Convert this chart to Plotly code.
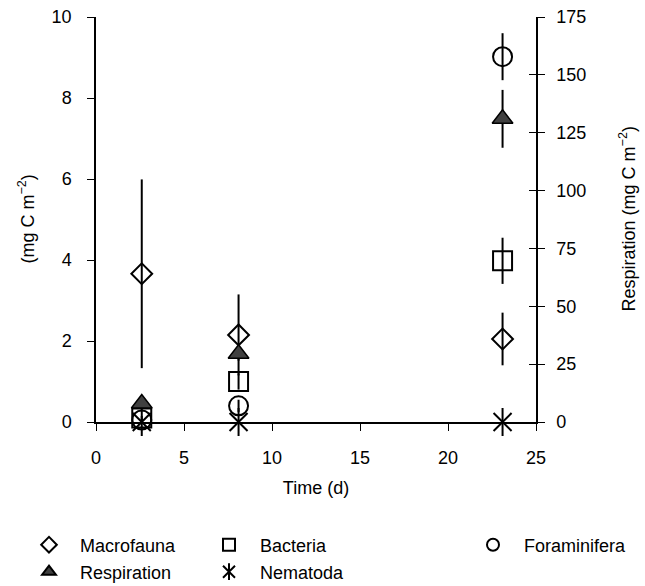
import plotly.graph_objects as go

# Data (time in days)
time = [2.6, 8.1, 23.1]
macro = [3.66, 2.15, 2.05]
macro_err = [2.33, 1.0, 0.65]
bact = [0.1, 1.0, 3.98]
bact_err = [0.05, 0.2, 0.57]
foram = [0.05, 0.4, 9.02]
foram_err = [0.03, 0.15, 0.58]
nema = [0.0, 0.0, 0.0]
resp = [8.0, 29.5, 131.0]
resp_err = [1.5, 3.0, 12.5]

font = "Liberation Sans, Arial, sans-serif"
FS = 18
W, H = 645, 586
L, R, T, B = 96, 109, 17, 164
PW = W - L - R
fig = go.Figure()

def err(v):
    return dict(type="data", array=v, visible=True, color="black", thickness=2, width=0)

fig.add_trace(go.Scatter(x=time, y=macro, mode="markers", name="Macrofauna",
    error_y=err(macro_err), cliponaxis=False, legend="legend",
    marker=dict(symbol="diamond-open", size=16, color="black", line=dict(width=2, color="black"))))
fig.add_trace(go.Scatter(x=time, y=bact, mode="markers", name="Bacteria",
    error_y=err(bact_err), cliponaxis=False, legend="legend2",
    marker=dict(symbol="square-open", size=19, color="black", line=dict(width=2, color="black"))))
fig.add_trace(go.Scatter(x=time, y=foram, mode="markers", name="Foraminifera",
    error_y=err(foram_err), cliponaxis=False, legend="legend3",
    marker=dict(symbol="circle-open", size=19, color="black", line=dict(width=2, color="black"))))
fig.add_trace(go.Scatter(x=time, y=nema, mode="markers", name="Nematoda",
    cliponaxis=False, legend="legend5",
    marker=dict(symbol="x-thin-open", size=18, color="black", line=dict(width=2, color="black"))))
fig.add_trace(go.Scatter(x=time, y=nema, mode="markers", name="\u00a0",
    cliponaxis=False, legend="legend6",
    marker=dict(symbol="line-ns-open", size=20, color="black", line=dict(width=2, color="black"))))
fig.add_trace(go.Scatter(x=time, y=resp, mode="markers", name="Respiration", yaxis="y2",
    error_y=err(resp_err), cliponaxis=False, legend="legend4",
    marker=dict(symbol="triangle-up", size=18, color="#404040", line=dict(width=1.5, color="black"))))

def leg(xpx, ypx):
    return dict(x=xpx / W, y=1 - ypx / H, xref="container", yref="container",
                xanchor="left", yanchor="middle", font=dict(size=FS), itemsizing="constant",
                itemwidth=52, bgcolor="rgba(0,0,0,0)", borderwidth=0)

fig.update_layout(
    width=W, height=H,
    margin=dict(l=L, r=R, t=T, b=B, autoexpand=False),
    paper_bgcolor="white", plot_bgcolor="white",
    font=dict(family=font, size=FS, color="black"),
    showlegend=True,
    xaxis=dict(range=[0, 25], tickvals=[0, 5, 10, 15, 20, 25], showgrid=False, zeroline=False,
               showline=True, linecolor="black", linewidth=1.5, ticks="outside", ticklen=7,
               tickcolor="black", ticklabelstandoff=12, automargin=False,
               title=dict(text="Time (d)", font=dict(size=FS), standoff=14)),
    yaxis=dict(range=[0, 10], tickvals=[0, 2, 4, 6, 8, 10], showgrid=False, zeroline=False,
               showline=True, linecolor="black", linewidth=1.5, ticks="outside", ticklen=7,
               tickcolor="black", ticklabelstandoff=12, automargin=False),
    yaxis2=dict(range=[0, 175], tickvals=[0, 25, 50, 75, 100, 125, 150, 175], overlaying="y",
                side="right", anchor="x", showgrid=False, zeroline=False, showline=True,
                linecolor="black", linewidth=1.5, ticks="outside", ticklen=7, tickcolor="black",
                ticklabelstandoff=8, automargin=False),
    yaxis3=dict(range=[0, 175], tickvals=[0, 25, 50, 75, 100, 125, 150, 175], overlaying="y",
                side="right", anchor="x", showgrid=False, zeroline=False, showline=False,
                showticklabels=False, ticks="inside", ticklen=7, tickcolor="black", automargin=False),
    legend=leg(18, 545),
    legend2=leg(198, 545),
    legend3=leg(462, 545),
    legend4=leg(18, 572),
    legend5=leg(198, 572),
    legend6=leg(198, 572),
    annotations=[
        dict(text="(mg C m<sup>−2</sup>)", textangle=-90, showarrow=False,
             xref="paper", yref="paper", x=(27 - L) / PW, y=0.5, xanchor="center", yanchor="middle",
             font=dict(size=FS)),
        dict(text="Respiration (mg C m<sup>−2</sup>)", textangle=-90, showarrow=False,
             xref="paper", yref="paper", x=(628 - L) / PW, y=0.5, xanchor="center", yanchor="middle",
             font=dict(size=FS)),
    ],
)
# dummy trace to activate yaxis3
fig.add_trace(go.Scatter(x=[None], y=[None], yaxis="y3", showlegend=False, hoverinfo="skip"))

fig.write_html("out.html")
